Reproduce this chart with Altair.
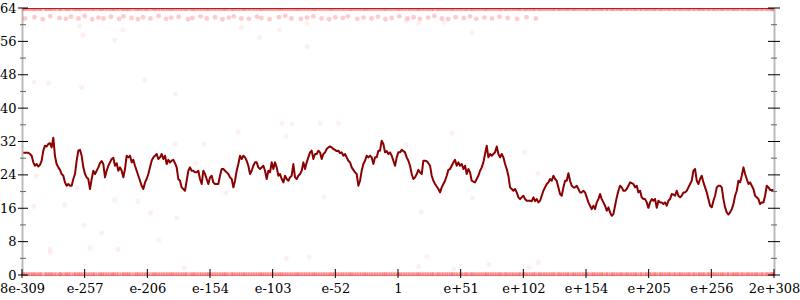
import altair as alt
import pandas as pd

# ---------------- data ----------------
TICK_POS = list(range(13))
TICK_LABELS = ["8e-309", "e-257", "e-206", "e-154", "e-103", "e-52", "1",
               "e+51", "e+102", "e+154", "e+205", "e+256", "2e+308"]
Y_MAJOR = [0, 8, 16, 24, 32, 40, 48, 56, 64]
Y_MINOR = [4, 12, 20, 28, 36, 44, 52, 60]

# dark red running line, sampled uniformly along the x range
LINE_X_START = 0.021
LINE_X_STEP = 0.0266
LINE_Y = [
    29.3, 29.3, 29.3, 29.3, 29.0, 28.6, 27.0, 26.2, 26.6, 26.0,
    26.4, 27.4, 29.8, 31.0, 30.8, 31.4, 31.6, 30.6, 32.9, 28.5,
    26.6, 25.8, 25.2, 24.2, 23.8, 22.2, 21.4, 21.8, 21.4, 21.4,
    23.0, 24.2, 27.4, 29.8, 30.0, 28.6, 25.8, 24.2, 23.4, 23.0,
    20.6, 23.0, 25.0, 24.2, 25.0, 25.8, 26.8, 27.3, 26.6, 23.4,
    25.0, 26.2, 27.0, 27.8, 28.1, 26.2, 26.8, 25.0, 25.8, 25.0,
    23.4, 25.4, 28.6, 28.2, 28.6, 27.0, 27.6, 26.2, 25.0, 23.8,
    22.6, 21.4, 20.6, 22.2, 23.0, 24.2, 25.8, 27.4, 28.2, 28.6,
    29.0, 27.8, 28.2, 29.0, 27.8, 28.6, 26.6, 27.6, 27.0, 27.4,
    27.6, 26.8, 25.8, 23.0, 22.6, 21.0, 20.6, 20.2, 22.6, 25.0,
    25.8, 25.0, 25.0, 24.6, 24.6, 25.0, 23.0, 21.8, 25.0, 24.2,
    23.0, 21.8, 23.4, 23.8, 22.2, 21.8, 21.8, 21.8, 23.8, 25.4,
    25.4, 25.0, 24.6, 24.2, 23.4, 23.0, 21.0, 22.6, 25.0, 26.6,
    28.6, 27.8, 28.6, 28.2, 27.4, 26.2, 24.2, 25.0, 26.2, 27.0,
    27.0, 25.8, 25.4, 25.8, 26.2, 25.0, 23.0, 25.0, 24.6, 27.0,
    25.4, 27.0, 25.8, 23.8, 24.2, 23.0, 22.2, 23.8, 23.0, 22.6,
    23.4, 23.8, 26.6, 23.4, 23.0, 23.8, 24.2, 25.0, 27.0, 25.4,
    27.0, 28.2, 29.4, 29.8, 27.8, 29.0, 29.0, 29.8, 29.4, 27.8,
    29.0, 29.4, 30.2, 30.6, 30.8, 30.6, 30.2, 30.0, 29.7, 29.8,
    29.2, 29.4, 28.6, 29.0, 28.2, 27.4, 27.0, 25.8, 25.2, 24.6,
    24.2, 21.4, 22.6, 25.0, 26.6, 27.4, 28.6, 28.2, 28.6, 28.2,
    26.6, 28.2, 28.2, 29.8, 29.8, 32.2, 31.4, 29.4, 29.7, 29.0,
    29.4, 28.6, 27.4, 26.2, 28.2, 29.4, 29.4,
    30.0, 29.7, 29.4, 28.2, 27.4, 26.2, 24.2, 23.0, 23.4, 24.2,
    25.2, 24.6, 24.2, 27.4, 27.4, 27.3, 26.8, 26.2, 23.8, 22.6,
    21.8, 21.2, 20.6, 19.8, 21.0, 21.8, 22.6, 23.8, 25.2, 25.4,
    26.2, 27.0, 27.6, 26.2, 27.0, 26.2, 26.6, 25.4, 26.2, 24.2,
    25.4, 24.6, 22.6, 22.4, 22.2, 23.0, 23.8, 25.0, 25.8, 27.0,
    29.0, 31.0, 28.2, 29.0, 28.6, 29.0, 29.4, 30.8, 29.0, 28.2,
    29.0, 28.2, 26.6, 25.4, 23.8, 21.0, 20.6, 20.2, 20.6, 19.8,
    18.6, 18.2, 18.6, 19.0, 18.2, 17.8, 17.8, 17.8, 17.7, 18.6,
    17.7, 18.2, 17.4, 17.8, 19.0, 20.2, 21.0, 21.8, 22.2, 23.0,
    22.6, 23.8, 23.0, 22.6, 21.0, 19.4, 19.0, 21.0, 22.6, 22.6,
    24.4, 22.6, 21.4, 21.0, 21.0, 21.4, 20.6, 19.8, 19.8, 20.2,
    19.8, 18.6, 17.4, 16.6, 15.8, 16.6, 15.8, 17.4, 18.2, 19.4,
    18.2, 17.4, 16.6, 15.4, 16.2, 15.0, 14.2, 14.6, 16.6, 18.6,
    20.2, 21.4, 21.0, 20.2, 20.2, 20.6, 21.4, 22.2, 22.0, 21.8,
    21.0, 21.4, 19.8, 20.2, 18.6, 18.2, 18.2, 17.4, 16.1, 17.4,
    18.2, 17.8, 18.2, 16.1, 17.8, 17.4, 17.4, 17.0, 17.4, 16.6,
    17.8, 18.2, 19.4, 19.3, 19.0, 20.2, 19.0, 18.6, 19.0, 19.8,
    19.8, 20.2, 21.0, 21.8, 22.6, 25.0, 25.4, 22.6, 21.8, 23.0,
    23.8, 22.2, 21.0, 19.8, 18.2, 16.6, 16.2, 17.8, 19.0, 21.0,
    21.4, 21.4, 21.0, 18.2, 16.2, 15.0, 14.5, 15.0, 15.8, 17.0,
    19.0, 20.2, 22.6, 22.2, 23.8, 25.8, 24.2, 23.0, 21.8, 22.2,
    21.4, 20.6, 19.0, 18.6, 18.2, 17.0, 17.4, 17.4, 19.0, 21.4,
    21.0, 20.4, 20.4, 20.4,
]

# dense bands of points at the top (y = 64) and the bottom (y = 0)
TOP_BAND_Y = 63.8
BOTTOM_BAND_Y = 0.2
BAND_X_A = [
    0.02, 0.09, 0.17, 0.24, 0.31, 0.40, 0.47, 0.55, 0.62, 0.71, 0.78, 0.86, 0.93,
    1.01, 1.09, 1.16, 1.25, 1.32, 1.40, 1.47, 1.55, 1.63, 1.70, 1.79, 1.86, 1.94,
    2.01, 2.10, 2.17, 2.25, 2.33, 2.40, 2.48, 2.56, 2.63, 2.72, 2.79, 2.87, 2.95,
    3.02, 3.10, 3.18, 3.25, 3.34, 3.41, 3.49, 3.56, 3.64, 3.72, 3.80, 3.87, 3.95,
    4.03, 4.11, 4.18, 4.26, 4.34, 4.41, 4.49, 4.57, 4.65, 4.72, 4.80, 4.88, 4.95,
    5.03, 5.11, 5.19, 5.26, 5.34, 5.42, 5.49, 5.57, 5.65, 5.73, 5.80, 5.88, 5.96,
    6.03, 6.11, 6.19, 6.27, 6.34, 6.42, 6.50, 6.57, 6.65, 6.73, 6.81, 6.88, 6.96,
    7.04, 7.11, 7.19, 7.27, 7.35, 7.42, 7.50, 7.58, 7.65, 7.73, 7.81, 7.89, 7.96,
    8.04, 8.12, 8.19, 8.27, 8.35, 8.43, 8.50, 8.58, 8.66, 8.73, 8.81, 8.89, 8.97,
    9.04, 9.12, 9.20, 9.27, 9.35, 9.43, 9.51, 9.58, 9.66, 9.74, 9.81, 9.89, 9.97,
    10.05, 10.12, 10.20, 10.28, 10.35, 10.43, 10.51, 10.59, 10.66, 10.74, 10.82,
    10.89, 10.97, 11.05, 11.13, 11.20, 11.28, 11.36, 11.43, 11.51, 11.59, 11.67,
    11.74, 11.82, 11.90, 11.97,
]
BAND_X_B = [
    0.05, 0.13, 0.20, 0.28, 0.37, 0.44, 0.51, 0.60, 0.67, 0.74, 0.83, 0.90, 0.97,
    1.05, 1.13, 1.21, 1.28, 1.36, 1.44, 1.51, 1.60, 1.67, 1.74, 1.83, 1.90, 1.98,
    2.06, 2.13, 2.21, 2.29, 2.37, 2.44, 2.52, 2.60, 2.68, 2.75, 2.83, 2.91, 2.98,
    3.06, 3.14, 3.22, 3.29, 3.37, 3.45, 3.53, 3.60, 3.68, 3.76, 3.83, 3.91, 3.99,
    4.07, 4.14, 4.22, 4.30, 4.38, 4.45, 4.53, 4.61, 4.68, 4.76, 4.84, 4.92, 4.99,
    5.07, 5.15, 5.23, 5.30, 5.38, 5.46, 5.53, 5.61, 5.69, 5.77, 5.84, 5.92, 6.00,
    6.07, 6.15, 6.23, 6.31, 6.38, 6.46, 6.54, 6.62, 6.69, 6.77, 6.85, 6.92, 7.00,
    7.08, 7.16, 7.23, 7.31, 7.39, 7.46, 7.54, 7.62, 7.70, 7.77, 7.85, 7.93, 8.01,
    8.08, 8.16, 8.24, 8.31, 8.39, 8.47, 8.55, 8.62, 8.70, 8.78, 8.85, 8.93, 9.01,
    9.09, 9.16, 9.24, 9.32, 9.40, 9.47, 9.55, 9.63, 9.70, 9.78, 9.86, 9.94, 10.01,
    10.09, 10.17, 10.24, 10.32, 10.40, 10.48, 10.55, 10.63, 10.71, 10.79, 10.86,
    10.94, 11.02, 11.09, 11.17, 11.25, 11.33, 11.40, 11.48, 11.56, 11.63, 11.71,
    11.79, 11.87, 11.94, 11.99,
]

# second band just below the top, left part of the chart
MID_BAND_X = [
    0.05, 0.20, 0.33, 0.45, 0.60, 0.70, 0.78, 0.90, 1.00, 1.12, 1.22, 1.30, 1.42,
    1.55, 1.62, 1.75, 1.85, 1.93, 2.05, 2.18, 2.30, 2.38, 2.50, 2.65, 2.72, 2.85,
    2.95, 3.08, 3.20, 3.30, 3.38, 3.50, 3.62, 3.75, 3.82, 3.95, 4.10, 4.20, 4.30,
    4.45, 4.55, 4.65, 4.78, 4.90, 5.00, 5.12, 5.20, 5.35, 5.45, 5.58, 5.68, 5.80,
    5.90, 6.02, 6.15, 6.25, 6.35, 6.48, 6.58, 6.70, 6.80, 6.92, 7.05, 7.15, 7.25,
    7.38, 7.50, 7.62, 7.75, 7.90, 8.05, 8.20,
]
MID_BAND_Y = [
    61.5, 61.8, 61.3, 62.0, 61.6, 61.4, 61.9, 61.5, 62.1, 61.3, 61.7, 61.5, 61.9,
    61.4, 62.0, 61.6, 61.3, 61.8, 61.5, 62.1, 61.4, 61.7, 61.9, 61.3, 61.6, 62.0,
    61.5, 61.8, 61.3, 61.7, 62.0, 61.5, 61.4, 61.9, 61.6, 61.3, 61.8, 62.1, 61.5,
    61.4, 61.7, 62.0, 61.5, 61.3, 61.8, 61.6, 62.0, 61.4, 61.7, 61.5, 61.9, 61.3,
    61.6, 62.0, 61.5, 61.8, 61.4, 61.7, 62.1, 61.5, 61.3, 61.8, 61.6, 62.0, 61.4,
    61.7, 61.5, 61.9, 61.6, 61.4, 61.8, 61.5,
]

# sparse, faint points elsewhere
SCATTER_X = [
    0.19, 0.43, 0.95, 1.96, 2.45, 2.44, 0.22, 0.88, 0.19, 0.68, 1.48, 1.85, 2.05,
    2.47, 0.99, 1.27, 2.18, 0.45, 1.08, 1.53, 2.77, 4.15, 4.31, 4.76, 5.05, 3.45,
    4.22, 2.90, 3.25, 4.82, 6.13, 6.86, 8.02, 8.23, 7.19, 6.37, 7.37, 0.92, 0.97,
    1.48, 1.61, 3.50, 3.79, 4.11, 4.55, 4.55, 6.13, 6.33, 6.73, 7.18, 0.45, 4.22,
    4.58, 2.59, 6.46, 6.33, 6.89, 7.45, 8.09, 8.24,
]
SCATTER_Y = [
    46.3, 46.0, 45.0, 46.7, 43.4, 31.4, 23.7, 20.9, 16.5, 16.8, 18.0, 17.7, 14.9,
    13.7, 12.0, 10.1, 8.4, 6.2, 6.5, 6.2, 26.8, 36.4, 36.2, 36.4, 36.4, 34.3,
    33.3, 31.4, 19.7, 18.7, 31.2, 34.0, 29.5, 24.4, 18.5, 15.1, 25.6, 59.7, 57.5,
    56.3, 58.7, 59.4, 57.0, 58.7, 60.4, 54.7, 60.8, 60.4, 60.6, 58.0, 5.5, 4.0,
    4.3, 1.7, 4.5, 2.0, 1.5, 2.5, 1.8, 3.0,
]

# ---------------- tables ----------------
line_df = pd.DataFrame({
    "x": [LINE_X_START + i * LINE_X_STEP for i in range(len(LINE_Y))],
    "y": LINE_Y,
})
band_x = BAND_X_A + BAND_X_B
top_df = pd.DataFrame({"x": band_x, "y": [TOP_BAND_Y] * len(band_x)})
bottom_df = pd.DataFrame({"x": band_x, "y": [BOTTOM_BAND_Y] * len(band_x)})
mid_df = pd.DataFrame({"x": MID_BAND_X, "y": MID_BAND_Y})
scatter_df = pd.DataFrame({"x": SCATTER_X, "y": SCATTER_Y})
xt_df = pd.DataFrame({"p": TICK_POS})
ymaj_df = pd.DataFrame({"v": Y_MAJOR})
ymin_df = pd.DataFrame({"v": Y_MINOR})

# ---------------- chart ----------------
W, H = 752, 267
FONT = "DejaVu Serif"
xscale = alt.Scale(domain=[0, 12], nice=False, zero=False)
yscale = alt.Scale(domain=[0, 64], nice=False, zero=False)
label_expr = "[" + ",".join("'%s'" % s for s in TICK_LABELS) + "][round(datum.value)]"

x_bottom_axis = alt.Axis(values=TICK_POS, labelExpr=label_expr, ticks=False, grid=False,
                         title=None, domainColor="#bbbbbb", domainWidth=1, labelPadding=7,
                         labelFont=FONT, labelFontSize=13, labelColor="black",
                         labelFlush=False, labelOverlap=False, labelBound=False)
y_left_axis = alt.Axis(values=Y_MAJOR, ticks=False, grid=False, title=None,
                       domainColor="#bbbbbb", domainWidth=2, labelPadding=6,
                       labelFont=FONT, labelFontSize=13, labelColor="black",
                       labelFlush=False, labelOverlap=False)
x_top_axis = alt.Axis(orient="top", labels=False, ticks=False, grid=False, title=None,
                      domainColor="#444444", domainWidth=1)
y_right_axis = alt.Axis(orient="right", labels=False, ticks=False, grid=False, title=None,
                        domainColor="#bbbbbb", domainWidth=2)

top_band = alt.Chart(top_df).mark_circle(color="#ff1010", opacity=0.3, size=22, clip=True).encode(
    x=alt.X("x:Q", scale=xscale, axis=x_top_axis),
    y=alt.Y("y:Q", scale=yscale, axis=None),
)
bottom_band = alt.Chart(bottom_df).mark_circle(color="#ff1010", opacity=0.32, size=18).encode(
    x=alt.X("x:Q", scale=xscale, axis=None),
    y=alt.Y("y:Q", scale=yscale, axis=None),
)
mid_band = alt.Chart(mid_df).mark_circle(color="red", opacity=0.2, size=24).encode(
    x=alt.X("x:Q", scale=xscale, axis=None),
    y=alt.Y("y:Q", scale=yscale, axis=None),
)
scatter = alt.Chart(scatter_df).mark_circle(color="red", opacity=0.06, size=26).encode(
    x=alt.X("x:Q", scale=xscale, axis=None),
    y=alt.Y("y:Q", scale=yscale, axis=None),
)
line = alt.Chart(line_df).mark_line(color="#8b0000", strokeWidth=2, strokeJoin="round").encode(
    x=alt.X("x:Q", scale=xscale, axis=x_bottom_axis),
    y=alt.Y("y:Q", scale=yscale, axis=y_left_axis),
)

left_major = alt.Chart(ymaj_df).mark_rule(color="black", strokeWidth=1).encode(
    y=alt.Y("v:Q", scale=yscale, axis=None), x=alt.value(-4), x2=alt.value(6))
left_minor = alt.Chart(ymin_df).mark_rule(color="#666666", strokeWidth=1).encode(
    y=alt.Y("v:Q", scale=yscale, axis=None), x=alt.value(-2), x2=alt.value(4))
right_major = alt.Chart(ymaj_df).mark_rule(color="black", strokeWidth=1).encode(
    y=alt.Y("v:Q", scale=yscale, axis=y_right_axis), x=alt.value(W - 6), x2=alt.value(W + 6))
right_minor = alt.Chart(ymin_df).mark_rule(color="#666666", strokeWidth=1).encode(
    y=alt.Y("v:Q", scale=yscale, axis=None), x=alt.value(W - 3), x2=alt.value(W + 3))
bottom_ticks = alt.Chart(xt_df).mark_rule(color="black", strokeWidth=1).encode(
    x=alt.X("p:Q", scale=xscale, axis=None), y=alt.value(H - 6), y2=alt.value(H + 3))

chart = alt.layer(
    scatter, mid_band, top_band, bottom_band, line,
    left_major, left_minor, right_major, right_minor, bottom_ticks,
).resolve_axis(x="independent", y="independent").properties(
    width=W, height=H,
    padding={"left": 22, "top": 8, "right": 26, "bottom": 25},
    autosize=alt.AutoSizeParams(type="none"),
    background="white",
).configure_view(stroke=None)

chart.save("out.html", embed_options={"renderer": "svg", "actions": False})
